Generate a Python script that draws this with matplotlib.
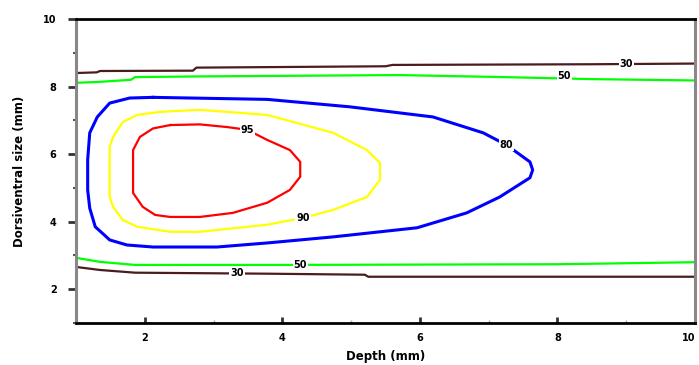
import matplotlib
matplotlib.use("Agg")
import matplotlib.pyplot as plt
from matplotlib.ticker import MultipleLocator

# isoline levels (percent) and their traced outlines: depth (mm), size (mm)
levels = [30, 50, 80, 90, 95]
colors = {30: "#4a1c1c", 50: "#00ff00", 80: "#0000ff", 90: "#ffff00", 95: "#ff0000"}

top30_x = [1.0, 1.3, 1.35, 2.7, 2.75, 5.5, 5.6, 8.5, 10.0]
top30_y = [8.40, 8.42, 8.46, 8.47, 8.56, 8.60, 8.64, 8.66, 8.68]
bot30_x = [1.0, 1.35, 1.86, 3.8, 5.2, 5.25, 10.0]
bot30_y = [2.66, 2.57, 2.49, 2.46, 2.43, 2.37, 2.37]

top50_x = [1.0, 1.35, 1.8, 1.86, 2.8, 5.7, 7.2, 8.5, 10.0]
top50_y = [8.11, 8.14, 8.20, 8.28, 8.30, 8.34, 8.28, 8.22, 8.18]
bot50_x = [1.0, 1.35, 1.86, 4.0, 8.0, 10.0]
bot50_y = [2.93, 2.81, 2.72, 2.72, 2.74, 2.80]

ring80_x = [2.12, 3.78, 4.98, 6.19, 6.92, 7.26, 7.60, 7.64, 7.60, 7.16, 6.68,
            5.96, 4.74, 3.78, 3.05, 2.12, 1.74, 1.49, 1.28, 1.20, 1.17, 1.17,
            1.20, 1.31, 1.49, 1.78, 2.12]
ring80_y = [7.68, 7.62, 7.40, 7.10, 6.63, 6.27, 5.77, 5.53, 5.30, 4.73, 4.26,
            3.82, 3.55, 3.37, 3.25, 3.25, 3.31, 3.46, 3.85, 4.40, 4.94, 5.83,
            6.63, 7.10, 7.51, 7.66, 7.68]

ring90_x = [2.22, 2.80, 3.78, 4.74, 5.23, 5.42, 5.42, 5.23, 4.74, 4.30, 3.78,
            2.80, 2.37, 1.89, 1.68, 1.54, 1.49, 1.49, 1.54, 1.68, 1.89, 2.22]
ring90_y = [7.25, 7.31, 7.16, 6.63, 6.12, 5.74, 5.24, 4.73, 4.35, 4.11, 3.91,
            3.70, 3.70, 3.85, 4.05, 4.44, 4.73, 6.21, 6.51, 6.95, 7.16, 7.25]

ring95_x = [2.37, 2.80, 3.20, 3.49, 3.78, 4.11, 4.26, 4.26, 4.11, 3.78, 3.28,
            2.80, 2.37, 2.15, 1.97, 1.83, 1.83, 1.93, 2.12, 2.37]
ring95_y = [6.86, 6.88, 6.80, 6.72, 6.42, 6.12, 5.77, 5.33, 4.94, 4.56, 4.26,
            4.14, 4.14, 4.20, 4.44, 4.85, 6.12, 6.51, 6.76, 6.86]

# where each level's value is printed on its line
label_lvl = [30, 50, 80, 95, 90, 50, 30]
label_x = [9.0, 8.1, 7.26, 3.49, 4.30, 4.26, 3.34]
label_y = [8.66, 8.30, 6.27, 6.72, 4.11, 2.72, 2.49]

depth_ticks = [2, 4, 6, 8, 10]
size_ticks = [2, 4, 6, 8, 10]

fig = plt.figure(figsize=(6.99, 3.65), dpi=100)
ax = fig.add_axes([0.1087, 0.115, 0.8856, 0.833])

lines = [
    (top30_x, top30_y, 30), (bot30_x, bot30_y, 30),
    (top50_x, top50_y, 50), (bot50_x, bot50_y, 50),
    (ring80_x, ring80_y, 80), (ring90_x, ring90_y, 90), (ring95_x, ring95_y, 95),
]
for xs, ys, lvl in lines:
    lw = 2.2 if lvl == 80 else 1.6
    ax.plot(xs, ys, color=colors[lvl], lw=lw, solid_joinstyle="round")

for lvl, x, y in zip(label_lvl, label_x, label_y):
    ax.text(x, y, str(lvl), ha="center", va="center", fontsize=7,
            fontweight="bold", color="black",
            bbox=dict(facecolor="white", edgecolor="none", pad=0.6))

ax.set_xlim(1, 10)
ax.set_ylim(1, 10)
ax.set_xticks(depth_ticks, [str(t) for t in depth_ticks], fontweight="bold")
ax.set_yticks(size_ticks, [str(t) for t in size_ticks], fontweight="bold")
ax.xaxis.set_minor_locator(MultipleLocator(1))
ax.yaxis.set_minor_locator(MultipleLocator(1))

for side in ["left", "right"]:
    ax.spines[side].set_color("#888888")
    ax.spines[side].set_linewidth(2.2)
for side in ["top", "bottom"]:
    ax.spines[side].set_color("black")
    ax.spines[side].set_linewidth(2.0)

ax.tick_params(axis="y", which="major", direction="out", length=6, width=2,
               color="#333333", labelsize=7, pad=8)
ax.tick_params(axis="y", which="minor", direction="out", length=2, width=1.5,
               color="#555555")
ax.tick_params(axis="x", which="major", direction="in", length=4, width=2,
               color="#333333", labelsize=7, pad=7)
ax.tick_params(axis="x", which="minor", direction="in", length=2, width=1,
               color="#aaaaaa")
# keep the last depth label inside the figure edge
ax.xaxis.get_major_ticks()[-1].label1.set_horizontalalignment("right")

ax.set_xlabel("Depth (mm)", fontsize=8.5, fontweight="bold", labelpad=5)
ax.set_ylabel("Dorsiventral size (mm)", fontsize=8.5, fontweight="bold", labelpad=12)

fig.savefig("out.png", dpi=100)
